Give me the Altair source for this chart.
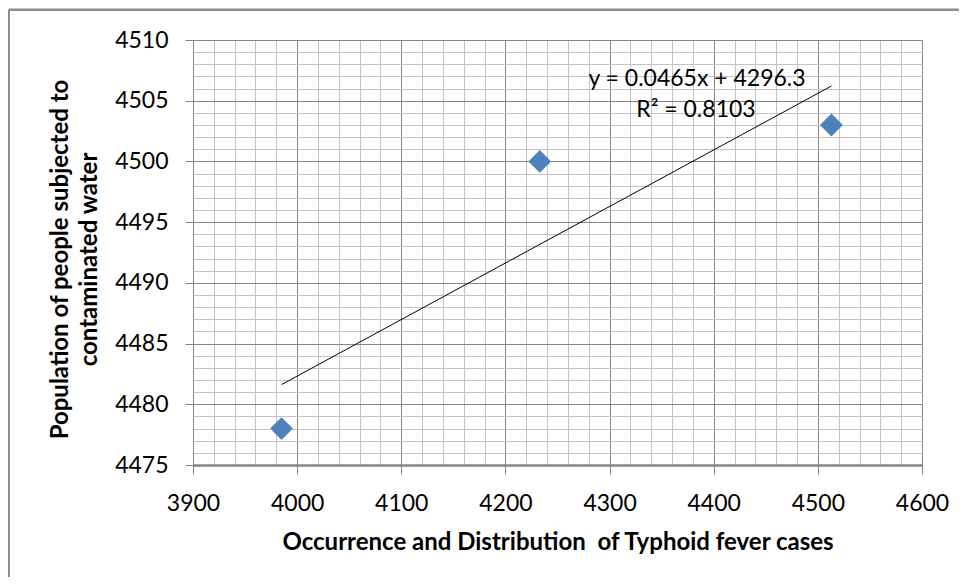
import altair as alt
import pandas as pd

# ---- data ----
typhoid_cases = [3985, 4233, 4513]
population = [4478, 4500, 4503]
x_ticks = list(range(3900, 4601, 20))   # major every 100, minor every 20
y_ticks = list(range(4475, 4511, 1))    # major every 5, minor every 1
equation_lines = ["y = 0.0465x + 4296.3", "R² = 0.8103"]
x_title = "Occurrence and Distribution\u00a0 of Typhoid fever cases"
y_title = ["Population of people subjected to", "contaminated water"]

df = pd.DataFrame({"x": typhoid_cases, "y": population})

FONT = "Lato"
MAJOR = "#868686"
MINOR = "#c3c3c3"
BLUE = "#4F81BD"

x_enc = alt.X(
    "x:Q",
    scale=alt.Scale(domain=[3900, 4600], nice=False, zero=False),
    axis=alt.Axis(
        values=x_ticks,
        format="d",
        labelExpr="datum.value % 100 === 0 ? datum.label : ''",
        labelOverlap=False,
        labelFlush=False,
        grid=True,
        gridColor={"condition": {"test": "datum.value % 100 === 0", "value": MAJOR}, "value": MINOR},
        gridWidth=1,
        ticks=True,
        tickSize=9,
        tickColor=MAJOR,
        tickOpacity={"condition": {"test": "datum.value % 100 === 0", "value": 1}, "value": 0},
        domainColor=MAJOR,
        domainWidth=2.5,
        labelFont=FONT,
        labelFontSize=23,
        labelColor="#000000",
        labelBaseline="middle",
        labelPadding=29,
        title=x_title,
        titleFont=FONT,
        titleFontSize=24,
        titleFontWeight="bold",
        titleColor="#000000",
        titleBaseline="middle",
        titleY=77,
    ),
)

y_enc = alt.Y(
    "y:Q",
    scale=alt.Scale(domain=[4475, 4510], nice=False, zero=False),
    axis=alt.Axis(
        values=y_ticks,
        format="d",
        labelExpr="datum.value % 5 === 0 ? datum.label : ''",
        labelOverlap=False,
        labelFlush=False,
        grid=True,
        gridColor={"condition": {"test": "datum.value % 5 === 0", "value": MAJOR}, "value": MINOR},
        gridWidth=1,
        ticks=True,
        tickSize=8,
        tickColor=MAJOR,
        tickOpacity={"condition": {"test": "datum.value % 5 === 0", "value": 1}, "value": 0},
        domainColor=MAJOR,
        domainWidth=1,
        labelFont=FONT,
        labelFontSize=23,
        labelColor="#000000",
        labelPadding=17,
        title=y_title,
        titleFont=FONT,
        titleFontSize=24,
        titleFontWeight="bold",
        titleColor="#000000",
        titleBaseline="middle",
        titleAlign="center",
        titleAngle=270,
        titleLineHeight=29,
        titleX=-133,
        titleY=219,
    ),
)

trend = (
    alt.Chart(df)
    .transform_regression("x", "y")
    .mark_line(color="#000000", strokeWidth=1)
    .encode(x=x_enc, y=y_enc)
)

points = (
    alt.Chart(df)
    .mark_point(shape="diamond", filled=True, size=520, color=BLUE, opacity=1)
    .encode(x=x_enc, y=y_enc)
)

one = alt.Data(values=[{}])

eq1 = alt.Chart(one).mark_text(
    font=FONT, fontSize=23, color="#000000", align="center", baseline="alphabetic"
).encode(x=alt.value(504), y=alt.value(46), text=alt.value(equation_lines[0]))

eq2 = alt.Chart(one).mark_text(
    font=FONT, fontSize=23, color="#000000", align="center", baseline="alphabetic"
).encode(x=alt.value(503), y=alt.value(77), text=alt.value(equation_lines[1]))

border_top = alt.Chart(one).mark_rule(color="#8c8c8c", strokeWidth=2.5).encode(
    x=alt.value(-184.3), x2=alt.value(800), y=alt.value(-30.3)
)
border_left = alt.Chart(one).mark_rule(color="#8c8c8c", strokeWidth=2.5).encode(
    x=alt.value(-184.3), y=alt.value(-30.3), y2=alt.value(560)
)

chart = (
    alt.layer(trend, points, eq1, eq2, border_top, border_left)
    .properties(
        width=729,
        height=425,
        autosize=alt.AutoSizeParams(type="none"),
        padding={"left": 185, "top": 32, "right": 37, "bottom": 112},
        background="white",
    )
    .configure_view(stroke=None)
)

chart.save("out.html", embed_options={"renderer": "svg", "actions": False})
